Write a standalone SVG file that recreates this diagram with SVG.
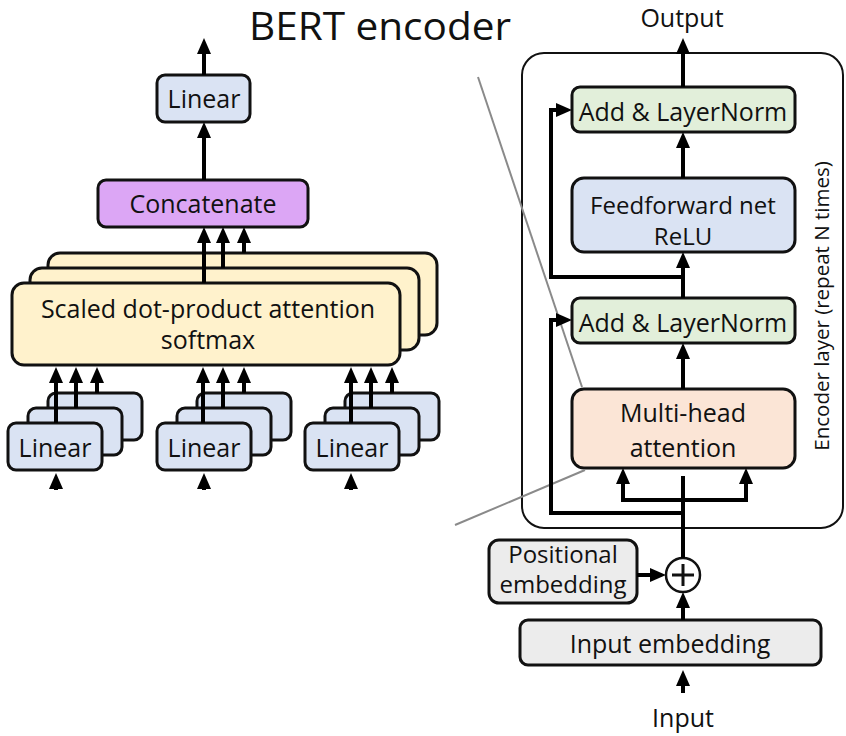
<svg xmlns="http://www.w3.org/2000/svg" width="846" height="736" viewBox="0 0 846 736">
  <defs>
    <marker id="head" markerUnits="userSpaceOnUse" markerWidth="16" markerHeight="14" refX="8" refY="7" orient="auto">
      <path d="M0,0 L16,7 L0,14 z" fill="#000"/>
    </marker>
    <style>
      text { font-family: "Open Sans", "Noto Sans", "Liberation Sans", sans-serif; fill: #111; }
      .lbl { font-size: 25px; text-anchor: middle; }
      .two { font-size: 24px; }
      .box { stroke: #111; stroke-width: 3; }
      .blue { fill: #dae3f3; }
      .purple { fill: #dca6f5; }
      .yellow { fill: #fff2cc; }
      .green { fill: #e2efda; }
      .peach { fill: #fbe5d6; }
      .grey { fill: #ececec; }
      .wire { fill: none; stroke: #000; stroke-width: 4; }
      .arrow { fill: none; stroke: #000; stroke-width: 4; marker-end: url(#head); }
      .zoomline { stroke: #8a8a8a; stroke-width: 2; }
    </style>
  </defs>

  <rect width="846" height="736" fill="#fff"/>

  <!-- title -->
  <text x="380" y="40" font-size="38" text-anchor="middle" textLength="262" lengthAdjust="spacingAndGlyphs">BERT encoder</text>

  <!-- encoder layer frame -->
  <g id="encoder-layer">
    <rect x="522" y="53" width="321" height="475" rx="22" fill="none" stroke="#111" stroke-width="2"/>
    <text transform="translate(829,306) rotate(-90)" font-size="20.5" text-anchor="middle">Encoder layer (repeat N times)</text>
  </g>

  <!-- multi-head attention detail (left) -->
  <g id="linear-out">
    <rect class="box blue" x="157" y="75" width="93" height="47" rx="8"/>
    <text class="lbl" x="204" y="108">Linear</text>
  </g>
  <g id="concatenate">
    <rect class="box purple" x="98" y="180" width="210" height="47" rx="8"/>
    <text class="lbl" x="203" y="213">Concatenate</text>
  </g>
  <g id="attention-heads">
    <rect class="box yellow" x="48" y="253" width="389" height="82" rx="12"/>
    <rect class="box yellow" x="30" y="268" width="389" height="82" rx="12"/>
    <rect class="box yellow" x="12" y="283" width="388" height="82" rx="12"/>
    <text class="lbl" x="208" y="318">Scaled dot-product attention</text>
    <text class="lbl" x="208" y="349">softmax</text>
  </g>
  <g id="linear-q">
    <rect class="box blue" x="48" y="393" width="94" height="47" rx="8"/>
    <rect class="box blue" x="28" y="408" width="94" height="47" rx="8"/>
    <rect class="box blue" x="8" y="423" width="94" height="47" rx="8"/>
    <text class="lbl" x="55" y="457">Linear</text>
  </g>
  <g id="linear-k">
    <rect class="box blue" x="197" y="393" width="94" height="47" rx="8"/>
    <rect class="box blue" x="177" y="408" width="94" height="47" rx="8"/>
    <rect class="box blue" x="157" y="423" width="94" height="47" rx="8"/>
    <text class="lbl" x="204" y="457">Linear</text>
  </g>
  <g id="linear-v">
    <rect class="box blue" x="345" y="393" width="94" height="47" rx="8"/>
    <rect class="box blue" x="325" y="408" width="94" height="47" rx="8"/>
    <rect class="box blue" x="305" y="423" width="94" height="47" rx="8"/>
    <text class="lbl" x="352" y="457">Linear</text>
  </g>

  <!-- encoder stack (right) -->
  <g id="add-norm-2">
    <rect class="box green" x="572" y="87" width="223" height="45" rx="8"/>
    <text class="lbl" x="683" y="121">Add &amp; LayerNorm</text>
  </g>
  <g id="feedforward">
    <rect class="box blue" x="572" y="178" width="223" height="74" rx="12"/>
    <text class="lbl two" x="683" y="214">Feedforward net</text>
    <text class="lbl two" x="683" y="245">ReLU</text>
  </g>
  <g id="add-norm-1">
    <rect class="box green" x="572" y="298" width="223" height="45" rx="8"/>
    <text class="lbl" x="683" y="332">Add &amp; LayerNorm</text>
  </g>
  <g id="multi-head">
    <rect class="box peach" x="572" y="389" width="223" height="79" rx="12"/>
    <text class="lbl" x="683" y="422">Multi-head</text>
    <text class="lbl" x="683" y="457">attention</text>
  </g>
  <g id="positional-embedding">
    <rect class="box grey" x="489" y="540" width="148" height="63" rx="10" stroke-width="2.5"/>
    <text class="lbl two" x="563" y="563">Positional</text>
    <text class="lbl two" x="563" y="593">embedding</text>
  </g>
  <g id="add-sum">
    <circle cx="683" cy="575" r="17" fill="#fff" stroke="#111" stroke-width="2.5"/>
    <path d="M672,575 H694 M683,564 V586" stroke="#111" stroke-width="3"/>
  </g>
  <g id="input-embedding">
    <rect class="box grey" x="520" y="620" width="301" height="45" rx="8" stroke-width="2.5"/>
    <text class="lbl" x="670" y="653">Input embedding</text>
  </g>
  <g id="io-labels">
    <text class="lbl" x="682" y="27" font-size="22">Output</text>
    <text class="lbl" x="683" y="727" font-size="23">Input</text>
  </g>

  <!-- zoom guide lines -->
  <g id="guides">
    <line class="zoomline" x1="478" y1="77" x2="582" y2="387"/>
    <line class="zoomline" x1="455" y1="525" x2="585" y2="470"/>
  </g>

  <g id="connectors">
    <!-- left detail -->
    <path class="arrow" d="M204,75 V46"/>
    <path class="arrow" d="M204,180 V130"/>
    <path class="arrow" d="M204,283 V235"/>
    <path class="arrow" d="M223,268 V235"/>
    <path class="arrow" d="M244,253 V235"/>

    <path class="arrow" d="M56,423 V375"/>
    <path class="arrow" d="M76,408 V375"/>
    <path class="arrow" d="M97,393 V375"/>
    <path class="arrow" d="M203,423 V375"/>
    <path class="arrow" d="M223,408 V375"/>
    <path class="arrow" d="M244,393 V375"/>
    <path class="arrow" d="M351,423 V375"/>
    <path class="arrow" d="M371,408 V375"/>
    <path class="arrow" d="M392,393 V375"/>

    <path class="arrow" d="M56,490 V481"/>
    <path class="arrow" d="M204,490 V481"/>
    <path class="arrow" d="M351,490 V481"/>

    <!-- encoder -->
    <path class="arrow" d="M683,87 V46"/>
    <path class="arrow" d="M683,178 V140"/>
    <path class="arrow" d="M683,298 V260"/>
    <path class="arrow" d="M683,389 V351"/>
    <path class="arrow" d="M683,277 H551 V110 H564"/>
    <path class="arrow" d="M683,513 H551 V320 H564"/>
    <path class="wire" d="M683,558 V476"/>
    <path class="arrow" d="M683,500 H623 V476"/>
    <path class="arrow" d="M683,500 H746 V476"/>
    <path class="arrow" d="M637,575 H658"/>
    <path class="arrow" d="M683,620 V600"/>
    <path class="arrow" d="M683,693 V678"/>
  </g>
</svg>
